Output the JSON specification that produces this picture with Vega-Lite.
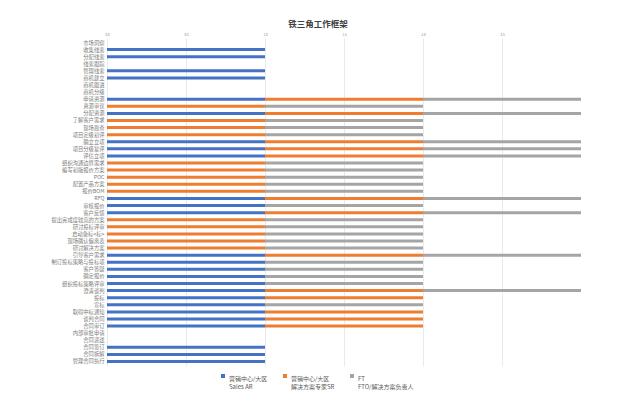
{
  "$schema": "https://vega.github.io/schema/vega-lite/v6.json",
  "autosize": {"type": "none"},
  "width": 474,
  "height": 328,
  "padding": {"left": 107, "top": 38, "right": 54, "bottom": 52},
  "background": "white",
  "title": {"text": "铁三角工作框架", "fontSize": 8.5, "font": "Noto Sans CJK SC", "fontWeight": "bold", "color": "#404040", "anchor": "middle", "dx": -26, "offset": 5},
  "config": {"view": {"stroke": null}, "font": "Noto Sans CJK SC"},
  "data": {"values": [
    {"task": "市场洞察", "a": 0, "b": 0, "c": 0},
    {"task": "收集线索", "a": 1, "b": 0, "c": 0},
    {"task": "分配线索", "a": 1, "b": 0, "c": 0},
    {"task": "线索跟踪", "a": 0, "b": 0, "c": 0},
    {"task": "管理线索", "a": 1, "b": 0, "c": 0},
    {"task": "商机建立", "a": 1, "b": 0, "c": 0},
    {"task": "商机跟进", "a": 0, "b": 0, "c": 0},
    {"task": "商机分级", "a": 0, "b": 0, "c": 0},
    {"task": "申请资源", "a": 1, "b": 1, "c": 1},
    {"task": "资源审议", "a": 0, "b": 1, "c": 1},
    {"task": "分配资源", "a": 1, "b": 1, "c": 1},
    {"task": "了解客户需求", "a": 0, "b": 1, "c": 1},
    {"task": "现场勘查", "a": 0, "b": 1, "c": 1},
    {"task": "项目定级初评", "a": 0, "b": 1, "c": 1},
    {"task": "确立立项", "a": 1, "b": 1, "c": 1},
    {"task": "项目分级复评", "a": 1, "b": 1, "c": 1},
    {"task": "评估立项", "a": 1, "b": 1, "c": 1},
    {"task": "组织沟通边界需求", "a": 0, "b": 1, "c": 1},
    {"task": "编写初版报价方案", "a": 0, "b": 1, "c": 1},
    {"task": "POC", "a": 0, "b": 1, "c": 1},
    {"task": "配置产品方案", "a": 0, "b": 1, "c": 1},
    {"task": "报价BOM", "a": 0, "b": 1, "c": 1},
    {"task": "RFQ", "a": 1, "b": 1, "c": 1},
    {"task": "审核报价", "a": 1, "b": 0, "c": 1},
    {"task": "客户反馈", "a": 1, "b": 1, "c": 1},
    {"task": "提出完成度较高的方案", "a": 0, "b": 1, "c": 1},
    {"task": "研讨投标评审", "a": 0, "b": 1, "c": 1},
    {"task": "启动备标<标>", "a": 0, "b": 1, "c": 1},
    {"task": "现场确认偏离表", "a": 0, "b": 1, "c": 1},
    {"task": "研讨解决方案", "a": 0, "b": 1, "c": 1},
    {"task": "引导客户需求", "a": 1, "b": 1, "c": 1},
    {"task": "制订投标策略与投标项", "a": 1, "b": 0, "c": 1},
    {"task": "客户答疑", "a": 1, "b": 0, "c": 1},
    {"task": "确定报价", "a": 1, "b": 0, "c": 1},
    {"task": "组织投标策略评审", "a": 1, "b": 0, "c": 1},
    {"task": "澄清谈判", "a": 1, "b": 1, "c": 1},
    {"task": "投标", "a": 1, "b": 1, "c": 0},
    {"task": "宣标", "a": 1, "b": 0, "c": 1},
    {"task": "取得中标通知", "a": 1, "b": 1, "c": 0},
    {"task": "谈判合同", "a": 1, "b": 1, "c": 0},
    {"task": "合同审订", "a": 1, "b": 1, "c": 0},
    {"task": "内部审批申请", "a": 0, "b": 0, "c": 0},
    {"task": "合同递送", "a": 0, "b": 0, "c": 0},
    {"task": "合同签订", "a": 1, "b": 0, "c": 0},
    {"task": "合同拆解", "a": 1, "b": 0, "c": 0},
    {"task": "管理合同执行", "a": 1, "b": 0, "c": 0}
  ]},
  "transform": [{"fold": ["a", "b", "c"], "as": ["role", "v"]}],
  "mark": {"type": "bar", "size": 3},
  "encoding": {
    "y": {
      "field": "task", "type": "nominal", "sort": null,
      "scale": {"paddingInner": 0, "paddingOuter": 0.135},
      "axis": {"title": null, "labelFontSize": 5.3, "labelColor": "#7a7a7a", "ticks": false, "domain": false, "labelPadding": 3, "labelOverlap": false, "labelLimit": 200}
    },
    "x": {
      "field": "v", "type": "quantitative", "stack": "zero",
      "scale": {"domain": [0, 3], "nice": false},
      "axis": {"orient": "top", "title": null, "values": [0, 0.5, 1, 1.5, 2, 2.5], "labelFontSize": 3, "labelColor": "#808080", "ticks": false, "domain": false, "gridColor": "#e4e4e4", "gridWidth": 0.8, "labelPadding": 2, "labelFlush": false}
    },
    "order": {"field": "role", "sort": "ascending"},
    "color": {
      "field": "role", "type": "nominal",
      "scale": {"domain": ["a", "b", "c"], "range": ["#4472C4", "#ED7D31", "#A5A5A5"]},
      "legend": {
        "title": null, "orient": "none", "direction": "horizontal", "legendX": 113, "legendY": 335,
        "symbolType": "square", "symbolSize": 16, "symbolStrokeWidth": 0,
        "labelFontSize": 6, "labelColor": "#595959", "labelBaseline": "top", "labelOffset": 3,
        "columnPadding": 14, "labelLimit": 200,
        "labelExpr": "datum.value == 'a' ? ['营销中心/大区', 'Sales AR'] : datum.value == 'b' ? ['营销中心/大区', '解决方案专家SR'] : ['FT', 'FTO/解决方案负责人']"
      }
    }
  }
}
